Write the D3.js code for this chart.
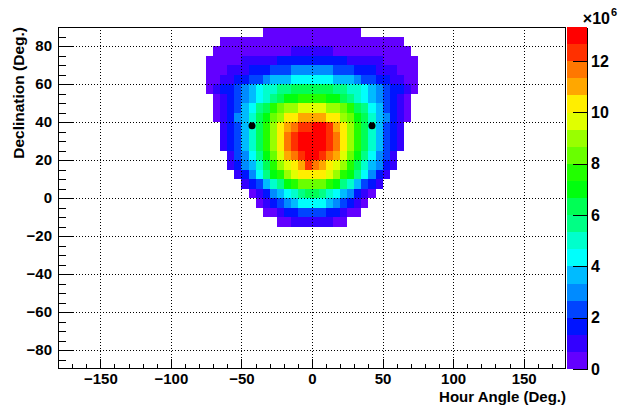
<!DOCTYPE html>
<html><head><meta charset="utf-8">
<script src="https://cdn.jsdelivr.net/npm/d3@7"></script>
<style>
body{margin:0;background:#fff}
svg{display:block}
text{font-family:"Liberation Sans",Arial,Helvetica,sans-serif;font-weight:bold;fill:#000}
</style>
</head><body>
<svg id="c" width="623" height="407"></svg>
<script>
// Declination lower edge of each row of bins (deg), 5 deg bins
const decLow = [85,80,75,70,65,60,55,50,45,40,35,30,25,20,15,10,5,0,-5,-10,-15];
// Hour angle lower edge of the first filled bin in each row (deg), 5 deg bins
const haStart = [-35,-65,-70,-75,-75,-75,-75,-70,-70,-70,-65,-65,-65,-60,-60,-55,-50,-45,-40,-35,-25];
// Bin contents (units of 1e6), one list per row
const counts = [
 [0.3,0.3,0.3,0.3,0.4,0.4,0.4,0.4,0.4,0.4,0.3,0.3,0.3,0.3],
 [0.2,0.3,0.3,0.3,0.3,0.3,0.4,0.4,0.4,0.5,0.5,0.5,0.5,0.5,0.5,0.5,0.5,0.4,0.4,0.4,0.3,0.3,0.3,0.3,0.3,0.2],
 [0.2,0.3,0.3,0.3,0.4,0.4,0.4,0.5,0.5,0.6,0.6,0.9,1.0,1.0,1.0,1.0,0.9,0.6,0.6,0.5,0.5,0.4,0.4,0.4,0.3,0.3,0.3,0.2],
 [0.3,0.4,0.4,0.5,0.6,0.8,0.9,1.0,1.1,1.2,1.4,1.5,1.6,1.7,1.7,1.7,1.7,1.6,1.5,1.4,1.2,1.1,1.0,0.9,0.8,0.6,0.5,0.4,0.4,0.3],
 [0.4,0.5,0.6,0.8,1.0,1.2,1.4,1.6,1.8,2.1,2.3,2.5,2.8,3.0,3.1,3.1,3.0,2.8,2.5,2.3,2.1,1.8,1.6,1.4,1.2,1.0,0.8,0.6,0.5,0.4],
 [0.5,0.6,0.9,1.2,1.5,1.8,2.1,2.5,3.0,3.4,3.7,3.9,4.1,4.3,4.5,4.5,4.3,4.1,3.9,3.7,3.4,3.0,2.5,2.1,1.8,1.5,1.2,0.9,0.6,0.5],
 [0.6,1.0,1.5,1.9,2.3,3.0,3.7,4.3,4.8,5.2,5.5,5.9,6.1,6.3,6.5,6.5,6.3,6.1,5.9,5.5,5.2,4.8,4.3,3.7,3.0,2.3,1.9,1.5,1.0,0.6],
 [0.6,1.1,1.7,2.3,3.0,3.7,4.3,5.0,5.7,6.3,6.9,7.2,7.5,7.7,7.8,7.5,7.2,6.9,6.3,5.7,5.0,4.3,3.7,3.0,2.3,1.7,1.1,0.6],
 [0.6,1.1,1.8,2.4,3.6,4.3,5.6,6.3,7.6,8.3,8.8,9.2,9.5,9.7,9.8,9.5,9.2,8.8,8.3,7.6,6.3,5.6,4.3,3.6,2.4,1.8,1.1,0.6],
 [0.6,1.2,1.9,3.0,3.7,5.0,6.3,7.0,8.3,9.0,10.2,10.5,10.8,11.1,11.2,10.9,10.5,10.2,9.0,8.3,7.0,6.3,5.0,3.7,3.0,1.9,1.2,0.6],
 [1.2,1.9,2.5,3.8,5.1,6.4,7.7,9.1,10.4,11.1,11.8,12.2,12.5,12.8,12.9,12.4,11.1,10.4,9.1,7.7,6.4,5.1,3.8,2.5,1.9,1.2],
 [1.2,1.9,2.5,3.9,5.2,6.5,7.8,9.2,10.5,11.8,12.4,12.9,13.1,13.1,12.9,12.4,11.8,10.5,9.2,7.8,6.5,5.2,3.9,2.5,1.9,1.2],
 [1.2,1.9,2.5,3.8,5.1,6.4,7.7,9.1,10.4,11.7,12.3,12.9,13.32,13.2,13.0,12.3,11.7,10.4,9.1,7.7,6.4,5.1,3.8,2.5,1.9,1.2],
 [1.1,2.2,3.2,4.5,5.8,7.1,8.4,9.7,11.0,11.7,12.4,12.8,12.8,12.4,11.7,11.0,9.7,8.4,7.1,5.8,4.5,3.2,2.2,1.1],
 [1.0,1.6,2.9,3.6,5.0,6.3,7.6,9.0,9.7,10.3,11.0,12.1,11.6,11.0,10.3,9.7,9.0,7.6,6.3,5.0,3.6,2.9,1.6,1.0],
 [0.9,1.5,2.8,4.2,5.6,6.9,7.5,8.9,9.6,10.1,10.4,10.4,10.1,9.6,8.9,7.5,6.9,5.6,4.2,2.8,1.5,0.9],
 [0.8,1.4,2.2,3.5,4.8,5.5,6.8,7.5,8.1,8.3,8.3,8.1,7.5,6.8,5.5,4.8,3.5,2.2,1.4,0.8],
 [0.6,1.2,1.9,2.8,3.5,4.2,4.9,5.5,6.1,6.1,5.5,4.9,4.2,3.5,2.8,1.9,1.2,0.6],
 [0.5,1.0,1.6,2.2,2.9,3.5,4.1,4.3,4.3,4.1,3.5,2.9,2.2,1.6,1.0,0.5],
 [0.3,0.6,1.0,1.5,1.8,2.1,2.2,2.2,2.1,1.8,1.5,1.0,0.6,0.3],
 [0.3,0.5,0.8,1.0,1.1,1.1,1.0,0.8,0.5,0.3]
];
// Marked points (hour angle, declination)
const markHA = [-42.5, 42.5];
const markDec = [38, 38];
// Axis ticks
const xTicks = [-150,-100,-50,0,50,100,150];
const yTicks = [-80,-60,-40,-20,0,20,40,60,80];
const zTicks = [0,2,4,6,8,10,12];
const binSize = 5;
const nLevels = 20;

const svg = d3.select("#c");
const L = 58, R = 566, T = 27, B = 369;
const x = d3.scaleLinear().domain([-180,180]).range([L,R]);
const y = d3.scaleLinear().domain([-90,90]).range([B,T]);

const cells = [];
counts.forEach((row,j)=>row.forEach((v,i)=>cells.push({ha:haStart[j]+i*binSize, dec:decLow[j], v})));
const zmax = d3.max(cells, d=>d.v);
// ROOT "pretty palette" (50 colours, HLS spectrum violet->red), 20 contour levels
function levelColor(k){
  const idx = Math.floor((k+0.99)*50/nLevels);
  const hue = 280 - (idx+1)*(280/50);
  return d3.hsl(hue,1,0.5).formatHex();
}
const level = v => Math.min(nLevels-1, Math.floor(v/zmax*nLevels));

// cells
svg.append("g").selectAll("rect").data(cells.filter(d=>d.v>0)).join("rect")
  .attr("x",d=>x(d.ha)).attr("y",d=>y(d.dec+binSize))
  .attr("width",d=>x(d.ha+binSize)-x(d.ha)).attr("height",d=>y(d.dec)-y(d.dec+binSize))
  .attr("fill",d=>levelColor(level(d.v))).attr("shape-rendering","crispEdges");

// grid
const grid = svg.append("g").attr("stroke","#000").attr("stroke-width",1).attr("stroke-dasharray","1,2").attr("shape-rendering","crispEdges");
grid.selectAll(".gx").data(xTicks).join("line").attr("x1",d=>Math.round(x(d))+0.5).attr("x2",d=>Math.round(x(d))+0.5).attr("y1",T).attr("y2",B);
grid.selectAll(".gy").data(yTicks).join("line").attr("y1",d=>Math.round(y(d))+0.5).attr("y2",d=>Math.round(y(d))+0.5).attr("x1",L).attr("x2",R);

// markers
svg.append("g").selectAll("circle").data(markHA).join("circle")
  .attr("cx",(d,i)=>x(d)).attr("cy",(d,i)=>y(markDec[i])).attr("r",3.5).attr("fill","#000");

// axes
const xMinor = d3.range(-170,180,10).filter(v=>v%50!==0);
const yMinor = d3.range(-85,90,5).filter(v=>v%20!==0);
function styleAxis(g){ g.select(".domain").remove(); g.selectAll("line").attr("stroke","#000").attr("shape-rendering","crispEdges"); g.selectAll("text").attr("font-size",15).style("font-family","'Liberation Sans',Arial,sans-serif").style("font-weight","bold"); }
svg.append("g").attr("transform",`translate(0,${B})`)
  .call(d3.axisBottom(x).tickValues(xTicks).tickSize(-10).tickPadding(4)).call(styleAxis);
svg.append("g").attr("transform",`translate(0,${B})`)
  .call(d3.axisBottom(x).tickValues(xMinor).tickSize(-5).tickFormat("")).call(styleAxis);
svg.append("g").attr("transform",`translate(${L},0)`)
  .call(d3.axisLeft(y).tickValues(yTicks).tickSize(-15).tickPadding(6)).call(styleAxis);
svg.append("g").attr("transform",`translate(${L},0)`)
  .call(d3.axisLeft(y).tickValues(yMinor).tickSize(-7.5).tickFormat("")).call(styleAxis);

// frame
svg.append("rect").attr("x",L+0.5).attr("y",T+0.5).attr("width",R-L-1).attr("height",B-T-1)
  .attr("fill","none").attr("stroke","#000").attr("shape-rendering","crispEdges");

// titles
svg.append("text").attr("x",R).attr("y",402).attr("text-anchor","end").attr("font-size",15).text("Hour Angle (Deg.)");
svg.append("text").attr("transform",`translate(24,${T}) rotate(-90)`).attr("text-anchor","end").attr("font-size",15.5).text("Declination (Deg.)");

// palette
const PX0 = 567, PX1 = 587;
const z = d3.scaleLinear().domain([0,zmax]).range([B,T]);
const bands = d3.range(nLevels);
svg.append("g").selectAll("rect").data(bands).join("rect")
  .attr("x",PX0).attr("width",PX1-PX0)
  .attr("y",k=>z((k+1)*zmax/nLevels)).attr("height",k=>z(k*zmax/nLevels)-z((k+1)*zmax/nLevels))
  .attr("fill",k=>levelColor(k)).attr("shape-rendering","crispEdges");
svg.append("g").attr("transform",`translate(${PX1},0)`)
  .call(d3.axisRight(z).tickValues(zTicks).tickSize(-14).tickSizeOuter(0).tickPadding(4))
  .call(g=>{g.select(".domain").attr("stroke","#000").attr("shape-rendering","crispEdges");
            g.selectAll("line").attr("stroke","#000").attr("shape-rendering","crispEdges");
            g.selectAll("text").attr("font-size",16).style("font-family","'Liberation Sans',Arial,sans-serif").style("font-weight","bold");});
svg.append("text").attr("x",610).attr("y",24).attr("text-anchor","end").attr("font-size",16).text("\u00d710");
svg.append("text").attr("x",611).attr("y",16).attr("font-size",11).text("6");
</script>
</body></html>
